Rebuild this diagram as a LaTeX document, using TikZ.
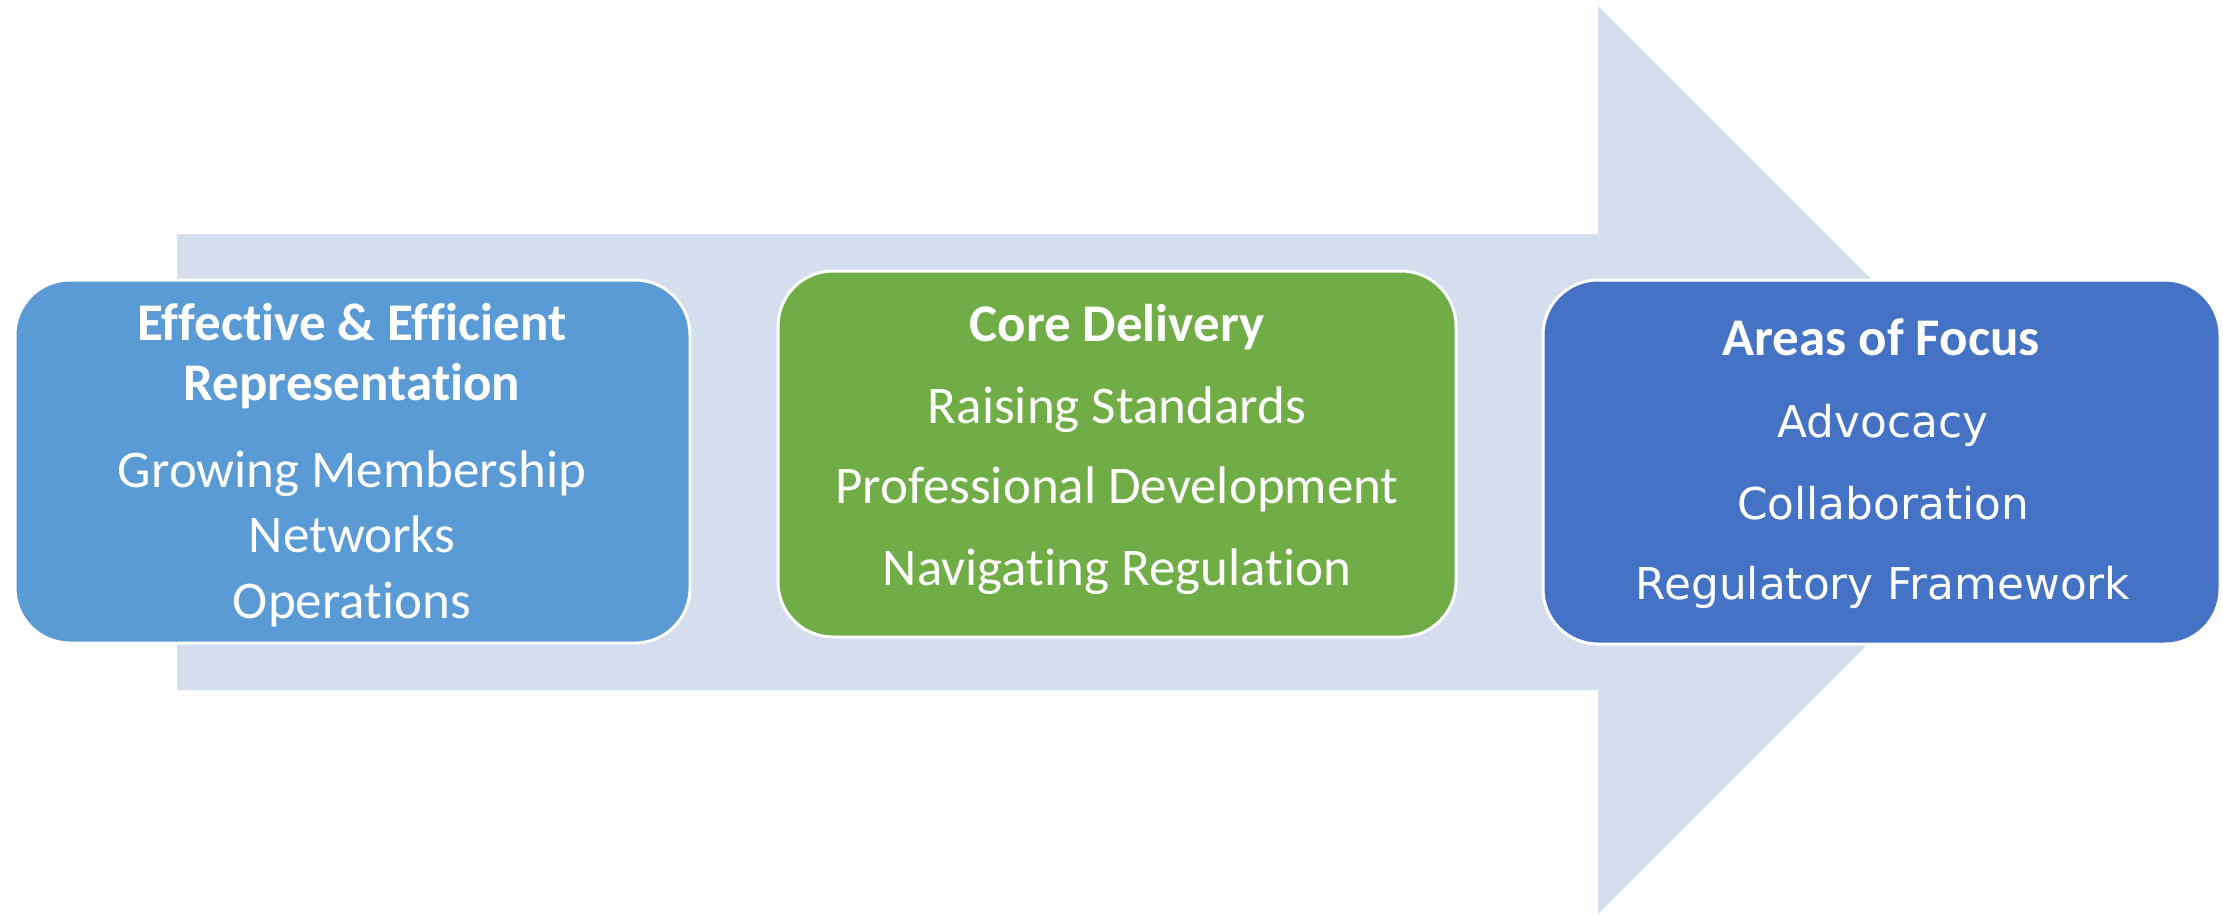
\documentclass[tikz,border=0pt]{standalone}
\usepackage{fontspec}
\newfontfamily\calfont[Ligatures=NoCommon]{Carlito}
\newfontfamily\verfont{DejaVu Sans}
\definecolor{arrowfill}{HTML}{D4DEEF}
\definecolor{boxA}{HTML}{5B9BD5}
\definecolor{boxB}{HTML}{70AD47}
\definecolor{boxC}{HTML}{4472C4}
\begin{document}
\begin{tikzpicture}[x=1pt,y=-1pt,
  panel/.style={rectangle, rounded corners=55pt, draw=white, line width=3pt, inner sep=0pt},
  calhead/.style={anchor=base, text=white, font=\calfont\bfseries\fontsize{53}{60}\selectfont, inner sep=0pt},
  calitem/.style={anchor=base, text=white, font=\calfont\fontsize{53}{60}\selectfont, inner sep=0pt},
  veritem/.style={anchor=base, text=white, font=\verfont\fontsize{43.8}{52}\selectfont, inner sep=0pt}]
\useasboundingbox (0,0) rectangle (2223,915);
% big arrow
\fill[arrowfill] (177,234) -- (1598,234) -- (1598,6) -- (2052,460) -- (1598,914) -- (1598,690) -- (177,690) -- cycle;
% boxes
\node[panel, fill=boxA, minimum width=675pt, minimum height=363pt] (b1) at (352.5,461.5) {};
\node[panel, fill=boxB, minimum width=678pt, minimum height=366pt] (b2) at (1117,454) {};
\node[panel, fill=boxC, minimum width=677pt, minimum height=364pt] (b3) at (1881.5,462) {};
% box 1 text
\node[calhead] (t1a) at (352,340) {Effective \& Efficient};
\node[calhead] (t1b) at (352,400) {Representation};
\node[calitem] (t1c) at (352,487) {Growing Membership};
\node[calitem] (t1d) at (352,552) {Networks};
\node[calitem] (t1e) at (352,618) {Operations};
% box 2 text
\node[calhead] (t2a) at (1117,341) {Core Delivery};
\node[calitem] (t2b) at (1117,423) {Raising Standards};
\node[calitem] (t2c) at (1117,503) {Professional Development};
\node[calitem] (t2d) at (1117,585) {Navigating Regulation};
% box 3 text
\node[calhead] (t3a) at (1881,355) {Areas of Focus};
\node[veritem] (t3b) at (1883,437) {Advocacy};
\node[veritem] (t3c) at (1883,519) {Collaboration};
\node[veritem] (t3d) at (1883,599) {Regulatory Framework};
\end{tikzpicture}
\end{document}
